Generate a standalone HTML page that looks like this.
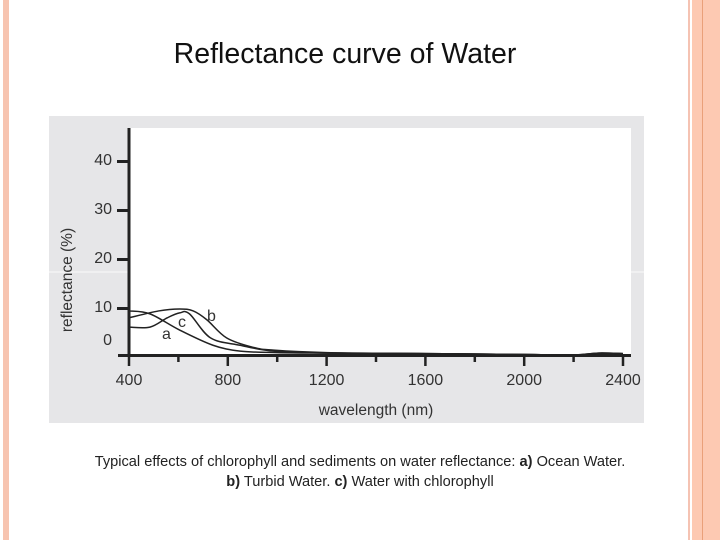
<!DOCTYPE html>
<html><head><meta charset="utf-8"><style>
body{margin:0;width:720px;height:540px;background:#fff;position:relative;overflow:hidden;font-family:"Liberation Sans",sans-serif}
.abs{position:absolute}
</style></head><body>
<div class="abs" style="left:3px;top:0;width:6px;height:540px;background:#f7c4b0"></div>
<div class="abs" style="left:688px;top:0;width:2px;height:540px;background:#f5c3b3"></div>
<div class="abs" style="left:692px;top:0;width:28px;height:540px;background:#fdc9b2"></div>
<div class="abs" style="left:702px;top:0;width:1px;height:540px;background:#eaa07a"></div>
<div class="abs" style="left:0;width:690px;top:38px;text-align:center;font-size:28.5px;color:#111">Reflectance curve of Water</div>
<svg class="abs" style="left:0;top:0" width="720" height="540">
<rect x="49" y="116" width="595" height="307" fill="#e6e6e8"/>
<rect x="130" y="128" width="501" height="228" fill="#fff"/>
<line x1="49" y1="272" x2="644" y2="272" stroke="#fff" stroke-width="1" opacity="0.8"/>
<g id="axes"></g><g id="series"></g>
<text x="72" y="280" transform="rotate(-90 72 280)" text-anchor="middle" font-size="15.5" fill="#333">reflectance (%)</text>
<text x="376" y="415" text-anchor="middle" font-size="15.5" fill="#333">wavelength (nm)</text>
<text x="162" y="339" font-size="16" fill="#333">a</text>
<text x="207" y="321" font-size="16" fill="#333">b</text>
<text x="178" y="327" font-size="16" fill="#333">c</text>
</svg>
<div class="abs" style="left:0;width:720px;top:452px;text-align:center;font-size:14.6px;line-height:20px;color:#222">Typical effects of chlorophyll and sediments on water reflectance: <b>a)</b> Ocean Water.<br><b>b)</b> Turbid Water. <b>c)</b> Water with chlorophyll</div>
<script>
const xTicks=[400,600,800,1000,1200,1400,1600,1800,2000,2200,2400];
const xLabels=[400,800,1200,1600,2000,2400];
const yTicks=[10,20,30,40];
const yLabels=[0,10,20,30,40];
const aNm=[400,485,605,740,850,1000,1200,1600,2000,2200,2300,2400];
const aVal=[9.4,8.8,5.5,2.4,1.2,0.9,0.8,0.7,0.5,0.4,0.7,0.6];
const bNm=[400,520,605,660,715,795,900,985,1200,1600,2000,2200,2300,2400];
const bVal=[8.0,9.4,9.8,9.4,7.6,3.9,2.0,1.4,0.9,0.7,0.5,0.4,0.8,0.7];
const cNm=[400,485,555,605,645,730,850,985,1200,1600,2000,2200,2300,2400];
const cVal=[6.1,6.1,8.0,9.0,8.8,3.9,2.4,1.2,0.8,0.7,0.5,0.4,0.8,0.7];
const X=nm=>129+(nm-400)*0.247;
const Y=v=>357-4.9*v;
const NS="http://www.w3.org/2000/svg";
const axes=document.getElementById('axes'),ser=document.getElementById('series');
function mk(t,a,p){const e=document.createElementNS(NS,t);for(const k in a)e.setAttribute(k,a[k]);p.appendChild(e);return e;}
let e=mk('line',{x1:129,y1:128,x2:129,y2:357,stroke:'#222','stroke-width':3},axes);


e=mk('line',{x1:118,y1:355.5,x2:631,y2:355.5,stroke:'#222','stroke-width':3},axes);


xTicks.forEach(t=>{const big=xLabels.includes(t);const l=mk('line',{x1:X(t),y1:355,x2:X(t),y2:big?366:362,stroke:'#222','stroke-width':2.5},axes);

});
xLabels.forEach(t=>{const l=mk('text',{x:X(t),y:385,'text-anchor':'middle','font-size':16,fill:'#333'},axes);l.textContent=t;

});
yTicks.forEach(t=>{const l=mk('line',{x1:117,y1:Y(t)+0.5,x2:129,y2:Y(t)+0.5,stroke:'#222','stroke-width':3},axes);

});
yLabels.forEach(t=>{const l=mk('text',{x:112,y:t===0?345:Y(t)+4,'text-anchor':'end','font-size':16,fill:'#333'},axes);l.textContent=t;

});
function path(nm,v){const p=nm.map((n,i)=>[X(n),Y(v[i])]);let d='M'+p[0][0]+','+p[0][1];
for(let i=1;i<p.length;i++){const p0=p[i-2]||p[i-1],p1=p[i-1],p2=p[i],p3=p[i+1]||p2;
d+=` C${p1[0]+(p2[0]-p0[0])/6},${p1[1]+(p2[1]-p0[1])/6} ${p2[0]-(p3[0]-p1[0])/6},${p2[1]-(p3[1]-p1[1])/6} ${p2[0]},${p2[1]}`;}return d;}
[['series-a-ocean',aNm,aVal],['series-b-turbid',bNm,bVal],['series-c-chlorophyll',cNm,cVal]].forEach(s=>{
const p=mk('path',{d:path(s[1],s[2]),fill:'none',stroke:'#222','stroke-width':1.5},ser);

});
</script>
</body></html>
